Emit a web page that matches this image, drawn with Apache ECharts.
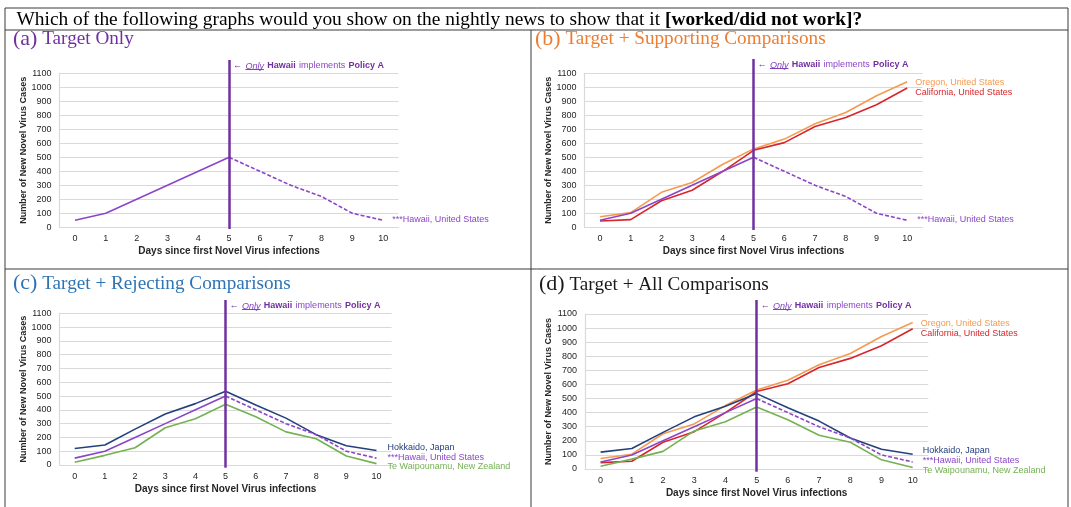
<!DOCTYPE html>
<html>
<head>
<meta charset="utf-8">
<script src="https://cdn.jsdelivr.net/npm/echarts@6/dist/echarts.min.js"></script>
<style>
  html, body { margin: 0; padding: 0; background: #fff; }
  #chart { width: 1071px; height: 507px; }
</style>
</head>
<body>
<div id="chart"></div>
<script>
// ---- data ----
const days = [0, 1, 2, 3, 4, 5, 6, 7, 8, 9, 10];
const policyDay = 5;
const hawaii       = [50, 100, 200, 300, 400, 500, 400, 300, 220, 100, 50];
const oregon       = [75, 105, 250, 320, 450, 560, 630, 740, 820, 940, 1040];
const california   = [45, 55, 190, 265, 400, 550, 605, 720, 785, 875, 995];
const hokkaido     = [120, 145, 260, 370, 445, 535, 435, 340, 220, 140, 105];
const teWaipounamu = [20, 70, 125, 270, 335, 440, 350, 240, 190, 65, 10];
const yMax = 1100;
const yStep = 100;

const names = {
  hawaii: '***Hawaii, United States',
  oregon: 'Oregon, United States',
  california: 'California, United States',
  hokkaido: 'Hokkaido, Japan',
  teWaipounamu: 'Te Waipounamu, New Zealand'
};
const values = { hawaii, oregon, california, hokkaido, teWaipounamu };
const colors = {
  hawaii: '#8B45C9',
  oregon: '#F59A50',
  california: '#D7262B',
  hokkaido: '#24407E',
  teWaipounamu: '#74B152'
};
const policyColor = '#7030A0';

// ---- panel layout ----
const panels = [
  { title: '(a)', sub: 'Target Only', titleColor: '#7030A0', tx: 13, ty: 39,
    grid: { left: 59.6, top: 73.3, width: 339, height: 154 }, lineTop: 60, lineBottom: 229,
    series: [['hawaii', 9, -1]] },
  { title: '(b)', sub: 'Target + Supporting Comparisons', titleColor: '#ED7D31', tx: 535, ty: 39,
    grid: { left: 584.6, top: 73.3, width: 338, height: 154 }, lineTop: 59, lineBottom: 230,
    series: [['oregon', 8, 1], ['california', 8, 5], ['hawaii', 10, -1]] },
  { title: '(c)', sub: 'Target + Rejecting Comparisons', titleColor: '#2E74B5', tx: 13, ty: 283.5,
    grid: { left: 59.6, top: 313.3, width: 332, height: 151.7 }, lineTop: 300, lineBottom: 467.7,
    series: [['hokkaido', 11, -3.5], ['hawaii', 11, -1], ['teWaipounamu', 11, 2.5]] },
  { title: '(d)', sub: 'Target + All Comparisons', titleColor: '#1a1a1a', tx: 539, ty: 284.5,
    grid: { left: 585, top: 314, width: 343.3, height: 155 }, lineTop: 300, lineBottom: 471.7,
    series: [['oregon', 8, 1], ['california', 8, 4.5], ['hokkaido', 10, -3.5], ['hawaii', 10, -1], ['teWaipounamu', 10, 2.5]] }
];

const sans = 'Arial, "Liberation Sans", sans-serif';
const serif = '"Times New Roman", "Liberation Serif", serif';
const tickColor = '#262626';
const gridColor = '#D9D9D9';

const grids = [], xAxes = [], yAxes = [], series = [];

panels.forEach((p, i) => {
  const g = 2 * i;
  grids.push(Object.assign({}, p.grid));
  grids.push({ left: p.grid.left, width: p.grid.width, top: p.lineTop, height: p.lineBottom - p.lineTop });

  xAxes.push({
    type: 'category', gridIndex: g, data: days, boundaryGap: true,
    axisLine: { lineStyle: { color: gridColor, width: 1.2 } },
    axisTick: { show: false },
    axisLabel: { fontSize: 9, color: tickColor, fontFamily: sans, margin: 7 },
    name: 'Days since first Novel Virus infections', nameLocation: 'middle', nameGap: 19,
    nameTextStyle: { fontSize: 10, fontWeight: 'bold', color: tickColor, fontFamily: sans }
  });
  xAxes.push({ type: 'category', gridIndex: g + 1, data: days, boundaryGap: true, show: false });

  yAxes.push({
    type: 'value', gridIndex: g, min: 0, max: yMax, interval: yStep,
    axisLine: { show: true, lineStyle: { color: gridColor, width: 1.2 } },
    axisTick: { show: false },
    splitLine: { lineStyle: { color: gridColor, width: 1.2 } },
    axisLabel: { fontSize: 9, color: tickColor, fontFamily: sans, margin: 8, formatter: v => String(v) },
    name: 'Number of New Novel Virus Cases', nameLocation: 'middle', nameGap: 25, nameRotate: 90,
    nameTextStyle: { fontSize: 9, fontWeight: 'bold', color: tickColor, fontFamily: sans }
  });
  yAxes.push({ type: 'value', gridIndex: g + 1, min: 0, max: 1, show: false });

  p.series.forEach(([key, dist, dy]) => {
    const base = {
      type: 'line', xAxisIndex: g, yAxisIndex: g, symbol: 'none', silent: true,
      lineStyle: { color: colors[key], width: 1.6 }, itemStyle: { color: colors[key] }
    };
    const label = {
      show: true, formatter: names[key], color: colors[key], fontSize: 9, fontFamily: sans,
      distance: dist, offset: [0, dy]
    };
    if (key === 'hawaii') {
      // solid before the policy day, dashed after it
      series.push(Object.assign({}, base, {
        name: names[key],
        data: hawaii.map((v, d) => (d <= policyDay ? v : null))
      }));
      series.push(Object.assign({}, base, {
        name: names[key],
        data: hawaii.map((v, d) => (d >= policyDay ? v : null)),
        lineStyle: { color: colors[key], width: 1.6, type: [4, 2] },
        endLabel: label
      }));
    } else {
      series.push(Object.assign({}, base, { name: names[key], data: values[key], endLabel: label }));
    }
  });

  // policy marker line and its note
  series.push({
    type: 'line', xAxisIndex: g + 1, yAxisIndex: g + 1, data: [], silent: true,
    markLine: {
      silent: true, symbol: ['none', 'none'], animation: false,
      label: { show: false },
      lineStyle: { color: policyColor, width: 2.5, type: 'solid' },
      data: [{ xAxis: policyDay }]
    },
    markPoint: {
      silent: true, symbol: 'circle', symbolSize: 0, animation: false,
      data: [{ coord: [policyDay, 1] }],
      label: {
        show: true, position: 'right', distance: 4, offset: [0, 6],
        formatter: '{a|←} {o|Only} {b|Hawaii} {n|implements} {b|Policy A}',
        rich: {
          a: { fontSize: 9, color: policyColor, fontFamily: sans },
          o: { fontSize: 9, color: '#7F3FBF', fontStyle: 'italic', fontFamily: sans, lineHeight: 11,
               backgroundColor: new echarts.graphic.LinearGradient(0, 0, 0, 1, [
                 { offset: 0, color: 'rgba(0,0,0,0)' }, { offset: 0.86, color: 'rgba(0,0,0,0)' },
                 { offset: 0.86, color: '#7F3FBF' }, { offset: 0.95, color: '#7F3FBF' },
                 { offset: 0.95, color: 'rgba(0,0,0,0)' }, { offset: 1, color: 'rgba(0,0,0,0)' }]) },
          b: { fontSize: 9, color: policyColor, fontWeight: 'bold', fontFamily: sans },
          n: { fontSize: 9, color: '#8B45C9', fontFamily: sans }
        }
      }
    }
  });
});

// ---- table frame and headings ----
const frame = '#3a3a3a';
const graphic = [
  { type: 'line', shape: { x1: 5, y1: 8, x2: 1068, y2: 8 }, style: { stroke: frame, lineWidth: 1 } },
  { type: 'line', shape: { x1: 5, y1: 30, x2: 1068, y2: 30 }, style: { stroke: frame, lineWidth: 1 } },
  { type: 'line', shape: { x1: 5, y1: 269, x2: 1068, y2: 269 }, style: { stroke: frame, lineWidth: 1 } },
  { type: 'line', shape: { x1: 5, y1: 8, x2: 5, y2: 507 }, style: { stroke: frame, lineWidth: 1 } },
  { type: 'line', shape: { x1: 1068, y1: 8, x2: 1068, y2: 507 }, style: { stroke: frame, lineWidth: 1 } },
  { type: 'line', shape: { x1: 531, y1: 30, x2: 531, y2: 507 }, style: { stroke: frame, lineWidth: 1 } },
  { type: 'text', x: 16.5, y: 20, style: {
      text: '{n|Which of the following graphs would you show on the nightly news to show that it }{b|[worked/did not work]?}',
      verticalAlign: 'middle',
      rich: {
        n: { fontFamily: serif, fontSize: 19.4, fill: '#000' },
        b: { fontFamily: serif, fontSize: 19.4, fill: '#000', fontWeight: 'bold' }
      }
  } }
];
panels.forEach(p => {
  graphic.push({ type: 'text', x: p.tx, y: p.ty, style: {
    text: '{p|' + p.title + '}{t| ' + p.sub + '}',
    verticalAlign: 'middle',
    rich: {
      p: { fontFamily: serif, fontSize: 22, fill: p.titleColor },
      t: { fontFamily: serif, fontSize: 19.2, fill: p.titleColor }
    }
  } });
});

const chart = echarts.init(document.getElementById('chart'), null, { renderer: 'canvas' });
chart.setOption({
  animation: false,
  backgroundColor: '#fff',
  grid: grids,
  xAxis: xAxes,
  yAxis: yAxes,
  series: series,
  graphic: graphic
});
</script>
</body>
</html>
